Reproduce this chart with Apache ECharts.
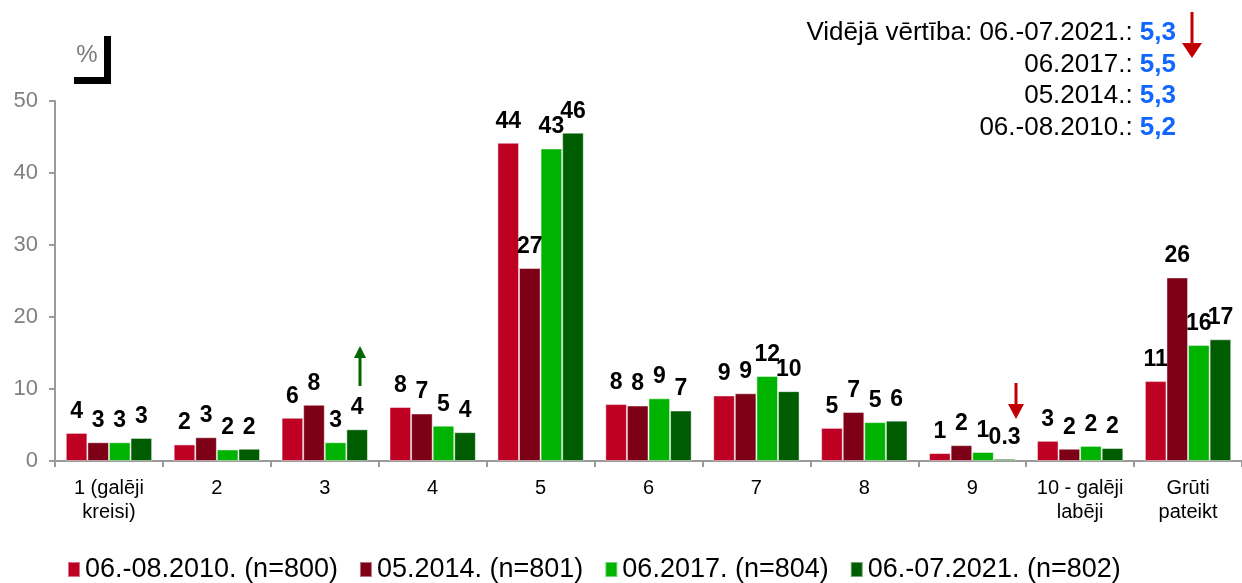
<!DOCTYPE html>
<html>
<head>
<meta charset="utf-8">
<script src="https://cdn.jsdelivr.net/npm/echarts@6/dist/echarts.min.js"></script>
<style>
  html, body { margin: 0; padding: 0; background: #fff; }
  #chart { width: 1242px; height: 583px; }
</style>
</head>
<body>
<div id="chart"></div>
<script>
const FONT = 'Liberation Sans, Arial, sans-serif'

const categories = ['1 (galēji\nkreisi)', '2', '3', '4', '5', '6', '7', '8', '9', '10 - galēji\nlabēji', 'Grūti\npateikt']
const seriesNames = ['06.-08.2010. (n=800)', '05.2014. (n=801)', '06.2017. (n=804)', '06.-07.2021. (n=802)']
const colors = ['#BE0023', '#7E0016', '#00B300', '#005C00']

const values2010 = [3.9, 2.3, 6.0, 7.5, 44.2, 7.9, 9.1, 4.6, 1.1, 2.8, 11.1]
const values2014 = [2.6, 3.3, 7.8, 6.6, 26.8, 7.7, 9.4, 6.8, 2.2, 1.7, 25.5]
const values2017 = [2.6, 1.6, 2.6, 4.9, 43.4, 8.7, 11.8, 5.4, 1.25, 2.1, 16.1]
const values2021 = [3.2, 1.7, 4.4, 4.0, 45.6, 7.0, 9.7, 5.6, 0.3, 1.8, 16.9]
const allValues = [values2010, values2014, values2017, values2021]

const avgLabels = ['Vidējā vērtība: 06.-07.2021.: ', '06.2017.: ', '05.2014.: ', '06.-08.2010.: ']
const avgValues = ['5,3', '5,5', '5,3', '5,2']

const chart = echarts.init(document.getElementById('chart'))

// arrow helper: shaft + head, pointing up or down
const arrow = (x, yTail, yTip, color, headW, headH) => {
  const dir = yTip > yTail ? 1 : -1
  return [
    { type: 'line', z: 10, shape: { x1: x, y1: yTail, x2: x, y2: yTip - dir * headH }, style: { stroke: color, lineWidth: 3 } },
    { type: 'polygon', z: 10, shape: { points: [[x - headW / 2, yTip - dir * headH], [x + headW / 2, yTip - dir * headH], [x, yTip]] }, style: { fill: color } },
  ]
}

const graphics = [
  // % badge
  { type: 'text', x: 87, y: 55, style: { text: '%', align: 'center', verticalAlign: 'middle', font: '24px ' + FONT, fill: '#7a7a7a' } },
  { type: 'rect', shape: { x: 104, y: 36, width: 7, height: 48 }, style: { fill: '#000' } },
  { type: 'rect', shape: { x: 74, y: 77, width: 37, height: 7 }, style: { fill: '#000' } },
  ...arrow(1192, 12, 58, '#C00000', 20, 15),
  ...arrow(360, 386, 346, '#006600', 12, 12),
  ...arrow(1016, 383, 419, '#C00000', 16, 15),
]

avgLabels.forEach((lbl, i) => {
  graphics.push({
    type: 'text',
    x: 1176,
    y: 33 + i * 31.5,
    style: {
      text: `{a|${lbl}}{b|${avgValues[i]}}`,
      align: 'right',
      verticalAlign: 'middle',
      rich: {
        a: { fontSize: 26, fontFamily: FONT, fill: '#000', color: '#000' },
        b: { fontSize: 26, fontFamily: FONT, fontWeight: 'bold', fill: '#1166FF', color: '#1166FF' },
      },
    },
  })
})

const options = {
  animation: false,
  color: colors,
  textStyle: { fontFamily: FONT },
  grid: { left: 55, top: 101, bottom: 122, width: 1198 },
  legend: {
    left: 62,
    top: 551,
    icon: 'rect',
    itemWidth: 12,
    itemHeight: 15,
    itemGap: 21,
    textStyle: { fontSize: 27, color: '#000', fontFamily: FONT },
    data: seriesNames,
  },
  xAxis: {
    type: 'category',
    data: categories,
    axisLine: { lineStyle: { color: '#9a9a9a', width: 2 } },
    axisTick: { show: true, length: 6, lineStyle: { color: '#9a9a9a', width: 2 } },
    axisLabel: { fontSize: 20, color: '#000', lineHeight: 24, margin: 15, interval: 0 },
  },
  yAxis: {
    type: 'value',
    min: 0,
    max: 50,
    interval: 10,
    splitLine: { show: false },
    axisLine: { show: true, lineStyle: { color: '#9a9a9a', width: 2 } },
    axisTick: { show: true, length: 6, lineStyle: { color: '#9a9a9a', width: 2 } },
    axisLabel: { fontSize: 22, color: '#808080', margin: 17 },
  },
  series: seriesNames.map((name, i) => ({
    name,
    type: 'bar',
    data: allValues[i],
    barGap: '0%',
    barCategoryGap: '20%',
    itemStyle: { color: colors[i], borderColor: 'rgba(255,255,255,0.45)', borderWidth: 1 },
    label: {
      show: true,
      position: 'top',
      distance: 10,
      fontSize: 23,
      fontWeight: 'bold',
      color: '#000',
      fontFamily: FONT,
      formatter: (p) => (p.value < 1 ? String(p.value) : String(Math.round(p.value))),
    },
  })),
  graphic: graphics,
}

chart.setOption(options)
</script>
</body>
</html>
